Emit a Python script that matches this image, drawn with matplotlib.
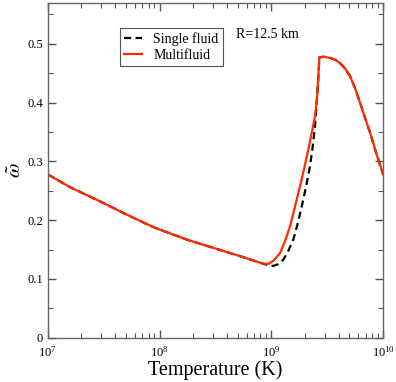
import matplotlib
matplotlib.use('Agg')
import matplotlib.pyplot as plt
import numpy as np
from matplotlib.ticker import LogLocator, MultipleLocator, NullFormatter

plt.rcParams.update({
    'font.family':      'serif',
    'font.serif':       ['Liberation Serif', 'DejaVu Serif'],
    'mathtext.fontset': 'stix',
})

# both models agree below ~8e8 K and above the peak (log10 T, omega)
low_logT = [7.0, 7.2, 7.468, 7.7, 7.916, 8.0, 8.25, 8.512, 8.75, 8.928]
low_w    = [0.278, 0.256, 0.232, 0.210, 0.1906, 0.184, 0.1665, 0.151, 0.137, 0.1258]

high_logT = [9.43, 9.47, 9.525, 9.57, 9.615, 9.66, 9.704, 9.75, 9.793, 9.84, 9.883, 9.94, 10.0]
high_w    = [0.477, 0.478, 0.476, 0.473, 0.467, 0.458, 0.445, 0.424, 0.400, 0.373, 0.349, 0.313, 0.278]

# where the curves part: multifluid (red)
multi_mid_logT = [8.973, 9.02, 9.078, 9.12, 9.167, 9.21, 9.257, 9.29, 9.331, 9.36, 9.391, 9.41]
multi_mid_w    = [0.1255, 0.131, 0.144, 0.163, 0.189, 0.222, 0.258, 0.285, 0.320, 0.347, 0.377, 0.41]

# single fluid (black dashed)
single_mid_logT = [8.97, 9.015, 9.06, 9.107, 9.15, 9.197, 9.24, 9.286, 9.32, 9.346, 9.37, 9.391, 9.42]
single_mid_w    = [0.1235, 0.122, 0.125, 0.1326, 0.147, 0.167, 0.197, 0.235, 0.266, 0.292, 0.325, 0.36, 0.44]

multi_T = 10 ** np.array(low_logT + multi_mid_logT + high_logT)
multi_w = low_w + multi_mid_w + high_w
single_T = 10 ** np.array(low_logT + single_mid_logT + high_logT)
single_w = low_w + single_mid_w + high_w

fig = plt.figure(figsize=(3.96, 3.82), dpi=100)
ax = fig.add_axes([0.1205, 0.116, 0.847, 0.877])

ax.plot(single_T, single_w, color='black', linestyle=(0, (3.2, 2.0)),
        linewidth=1.6, label='Single fluid')
ax.plot(multi_T, multi_w, color='#ff2a00', linewidth=1.6, label='Multifluid')

ax.set_xscale('log')
ax.set_xlim(1e7, 1e10)
ax.set_ylim(0, 0.57)

ax.xaxis.set_major_locator(LogLocator(base=10, numticks=10))
ax.xaxis.set_minor_locator(LogLocator(base=10, subs=range(2, 10), numticks=10))
ax.xaxis.set_minor_formatter(NullFormatter())
ax.yaxis.set_minor_locator(MultipleLocator(0.05))
ax.set_yticks([0, 0.1, 0.2, 0.3, 0.4, 0.5])
ax.set_yticklabels(['0', '0.1', '0.2', '0.3', '0.4', '0.5'])

ax.tick_params(which='both', direction='in', top=True, right=True,
               color='#555555', labelsize=9)
ax.tick_params(axis='x', pad=5)
ax.tick_params(which='major', length=6, width=1.0)
ax.tick_params(which='minor', length=3.5, width=0.8)
for s in ax.spines.values():
    s.set_color('#666666')
    s.set_linewidth(1.0)

ax.set_xlabel('Temperature (K)', fontsize=14.5, labelpad=1)
ax.set_ylabel(r'$\tilde{\omega}$', fontsize=15, labelpad=1)

leg = ax.legend(loc='upper left', bbox_to_anchor=(0.2156, 0.924), fontsize=10,
                handlelength=1.3, handletextpad=0.8, borderpad=0.3,
                borderaxespad=0, labelspacing=0.2, fancybox=False, framealpha=1)
leg.get_frame().set_edgecolor('#555555')
leg.get_frame().set_linewidth(0.8)

ax.text(0.56, 0.904, 'R=12.5 km', transform=ax.transAxes, fontsize=10,
        va='center', ha='left')

fig.savefig('out.png', dpi=100)
